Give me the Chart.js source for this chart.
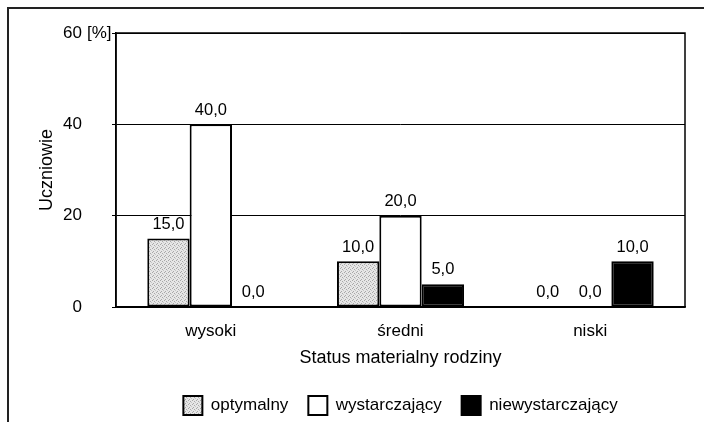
<!DOCTYPE html>
<html>
<head>
<meta charset="utf-8">
<script src="https://cdn.jsdelivr.net/npm/chart.js@4/dist/chart.umd.min.js"></script>
<style>
  html, body { margin: 0; padding: 0; background: #fff; overflow: hidden; }
  #frame {
    position: absolute; left: 7px; top: 7px; width: 800px; height: 500px;
    border-left: 2px solid #222; border-top: 2px solid #222;
  }
  #wrap { position: absolute; left: 0; top: 0; width: 704px; height: 422px; }
</style>
</head>
<body>
<div id="frame"></div>
<div id="wrap"><canvas id="chart" width="704" height="422"></canvas></div>
<script>
// dane z wykresu
const categories = ["wysoki", "średni", "niski"];
const optymalny = [15.0, 10.0, 0.0];
const wystarczajacy = [40.0, 20.0, 0.0];
const niewystarczajacy = [0.0, 5.0, 10.0];
const yTicks = [0, 20, 40, 60];

const fontFamily = "'Liberation Sans', Arial, sans-serif";
const ink = "#000";

// drobny szary raster jak w oryginale
function stipple() {
  const c = document.createElement("canvas");
  c.width = 4; c.height = 4;
  const g = c.getContext("2d");
  g.fillStyle = "#e6e6e6";
  g.fillRect(0, 0, 4, 4);
  g.fillStyle = "#a8a8a8";
  g.fillRect(0, 0, 1, 1);
  g.fillRect(2, 1, 1, 1);
  g.fillRect(1, 3, 1, 1);
  g.fillStyle = "#c4c4c4";
  g.fillRect(3, 2, 1, 1);
  return g.createPattern(c, "repeat");
}

// etykiety wartosci nad slupkami
const valueLabels = {
  id: "valueLabels",
  afterDatasetsDraw(chart) {
    const ctx = chart.ctx;
    ctx.save();
    ctx.font = `16.5px ${fontFamily}`;
    ctx.fillStyle = ink;
    ctx.textAlign = "center";
    ctx.textBaseline = "bottom";
    chart.data.datasets.forEach((ds, i) => {
      chart.getDatasetMeta(i).data.forEach((bar, j) => {
        const txt = ds.data[j].toFixed(1).replace(".", ",");
        ctx.fillText(txt, bar.x, bar.y - 6);
      });
    });
    ctx.restore();
  }
};

// ramka obszaru wykresu + jednostka przy 60
const plotFrame = {
  id: "plotFrame",
  afterDraw(chart) {
    const ctx = chart.ctx;
    const a = chart.chartArea;
    const y = chart.scales.y;
    ctx.save();
    ctx.strokeStyle = ink;
    ctx.lineWidth = 1.5;
    ctx.strokeRect(a.left, a.top, a.right - a.left, a.bottom - a.top);
    ctx.font = `17px ${fontFamily}`;
    ctx.fillStyle = ink;
    ctx.textAlign = "left";
    ctx.textBaseline = "middle";
    const x = y.right - y.options.grid.tickLength - y.options.ticks.padding;
    ctx.fillText("[%]", x + 5, y.getPixelForValue(60));
    ctx.restore();
  }
};

new Chart(document.getElementById("chart"), {
  type: "bar",
  data: {
    labels: categories,
    datasets: [
      { label: "optymalny", data: optymalny, backgroundColor: stipple(), borderColor: ink, borderWidth: 2 },
      { label: "wystarczający", data: wystarczajacy, backgroundColor: "#ffffff", borderColor: ink, borderWidth: 2 },
      { label: "niewystarczający", data: niewystarczajacy, backgroundColor: "#000000", borderColor: ink, borderWidth: 2 }
    ]
  },
  options: {
    responsive: false,
    animation: false,
    layout: { padding: { left: 36, right: 19, top: 33, bottom: -3 } },
    datasets: { bar: { categoryPercentage: 0.67, barPercentage: 1.0, borderSkipped: false } },
    plugins: {
      legend: {
        position: "bottom",
        fullSize: false,
        labels: {
          font: { family: fontFamily, size: 17 },
          color: ink,
          boxWidth: 19,
          boxHeight: 19,
          padding: 20
        }
      },
      tooltip: { enabled: false }
    },
    scales: {
      x: {
        grid: { display: false },
        border: { color: ink, width: 1.5 },
        ticks: { font: { family: fontFamily, size: 17 }, color: ink, padding: 6 },
        title: {
          display: true, text: "Status materialny rodziny",
          font: { family: fontFamily, size: 18 }, color: ink,
          padding: { top: 0, bottom: 7 }
        }
      },
      y: {
        min: 0, max: 60,
        afterBuildTicks(scale) { scale.ticks = yTicks.map(v => ({ value: v })); },
        afterFit(scale) {
          scale.width = 80;
          scale.paddingTop = 10;
          scale.paddingBottom = 10;
        },
        grid: { color: ink, lineWidth: 1, tickLength: 4 },
        border: { color: ink, width: 1.5 },
        ticks: { font: { family: fontFamily, size: 17 }, color: ink, padding: 30 },
        title: {
          display: true, text: "Uczniowie",
          font: { family: fontFamily, size: 18 }, color: ink,
          padding: { top: 0, bottom: 4 }
        }
      }
    }
  },
  plugins: [valueLabels, plotFrame]
});
</script>
</body>
</html>
